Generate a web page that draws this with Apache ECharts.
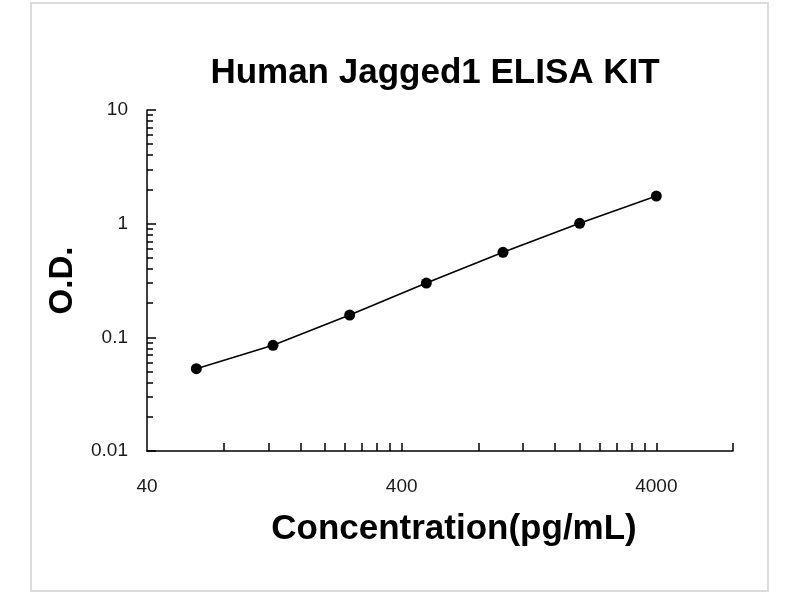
<!DOCTYPE html>
<html>
<head>
<meta charset="utf-8">
<title>Human Jagged1 ELISA KIT</title>
<script src="https://cdn.jsdelivr.net/npm/echarts@6/dist/echarts.min.js"></script>
<style>
  html, body { margin: 0; padding: 0; background: #fff; }
  #chart { width: 800px; height: 600px; }
</style>
</head>
<body>
<div id="chart"></div>
<script>
const TITLE = 'Human Jagged1 ELISA KIT';
const X_NAME = 'Concentration(pg/mL)';
const Y_NAME = 'O.D.';
const FONT = '"Liberation Sans", Arial, sans-serif';

// standard curve
const CONCENTRATIONS = [ 62.5, 125, 250, 500, 1000, 2000, 4000 ];
const OD_VALUES = [ 0.053, 0.085, 0.157, 0.300, 0.560, 1.006, 1.75 ];

const X_MIN = 40;
const X_MAX = 8000;
const X_LABELS = [ 40, 400, 4000 ];
const X_TICKS = [ 80, 120, 160, 200, 240, 280, 320, 360, 400,
  800, 1200, 1600, 2000, 2400, 2800, 3200, 3600, 4000, 8000 ];

const Y_MIN = 0.01;
const Y_MAX = 10;
const Y_LABELS = [ 0.01, 0.1, 1, 10 ];
const Y_MINOR = [ 2, 3, 4, 5, 6, 7, 8, 9 ];

let yMinorTicks = [];
[ 0.01, 0.1, 1 ].forEach(decade => {
  Y_MINOR.forEach(m => yMinorTicks.push(+(decade * m).toPrecision(3)));
});

let points = CONCENTRATIONS.map((c, i) => [ c, OD_VALUES[i] ]);

let fmt = v => String(+(+v).toPrecision(4));

let chart = echarts.init(document.querySelector('#chart'));

chart.setOption({
  backgroundColor: '#fff',
  animation: false,
  title: {
    text: TITLE,
    left: 430,
    top: 51,
    textAlign: 'center',
    textStyle: { fontFamily: FONT, fontSize: 35, fontWeight: 'bold', color: '#000' }
  },
  graphic: [{
    type: 'rect',
    shape: { x: 31, y: 3, width: 737, height: 588 },
    style: { fill: 'none', stroke: '#dcdcdc', lineWidth: 2 },
    silent: true
  }],
  grid: { left: 147, right: 67, top: 110, bottom: 149, containLabel: false },
  xAxis: [{
    type: 'log',
    logBase: 10,
    min: X_MIN,
    max: X_MAX,
    name: X_NAME,
    nameLocation: 'middle',
    nameGap: 61,
    nameTextStyle: {
      fontFamily: FONT, fontSize: 35, fontWeight: 'bold', color: '#000',
      padding: [ 0, 0, 0, 28 ]
    },
    axisLine: { show: true, lineStyle: { color: '#000', width: 1.5 } },
    axisTick: {
      show: true, inside: true, length: 8,
      customValues: X_TICKS,
      lineStyle: { color: '#000', width: 1.5 }
    },
    minorTick: { show: false },
    axisLabel: {
      customValues: X_LABELS,
      margin: 26,
      fontFamily: FONT, fontSize: 19, color: '#1a1a1a',
      formatter: fmt
    },
    splitLine: { show: false }
  }],
  yAxis: [{
    type: 'log',
    logBase: 10,
    min: Y_MIN,
    max: Y_MAX,
    name: Y_NAME,
    nameLocation: 'middle',
    nameGap: 68,
    nameRotate: 90,
    nameTextStyle: { fontFamily: FONT, fontSize: 33, fontWeight: 'bold', color: '#000' },
    axisLine: { show: true, lineStyle: { color: '#000', width: 1.5 } },
    axisTick: {
      show: true, inside: true, length: 9,
      customValues: Y_LABELS,
      lineStyle: { color: '#000', width: 1.5 }
    },
    axisLabel: {
      customValues: Y_LABELS,
      margin: 19,
      fontFamily: FONT, fontSize: 19, color: '#1a1a1a',
      formatter: fmt
    },
    splitLine: { show: false }
  }, {
    // minor ticks 2..9 inside each decade
    type: 'log',
    logBase: 10,
    min: Y_MIN,
    max: Y_MAX,
    position: 'left',
    axisLine: { show: false },
    axisTick: {
      show: true, inside: true, length: 6,
      customValues: yMinorTicks,
      lineStyle: { color: '#000', width: 1.5 }
    },
    axisLabel: { show: false },
    splitLine: { show: false }
  }],
  series: [{
    type: 'line',
    data: points,
    symbol: 'circle',
    symbolSize: 11,
    itemStyle: { color: '#000' },
    lineStyle: { color: '#000', width: 1.6 },
    silent: true
  }]
});
</script>
</body>
</html>
